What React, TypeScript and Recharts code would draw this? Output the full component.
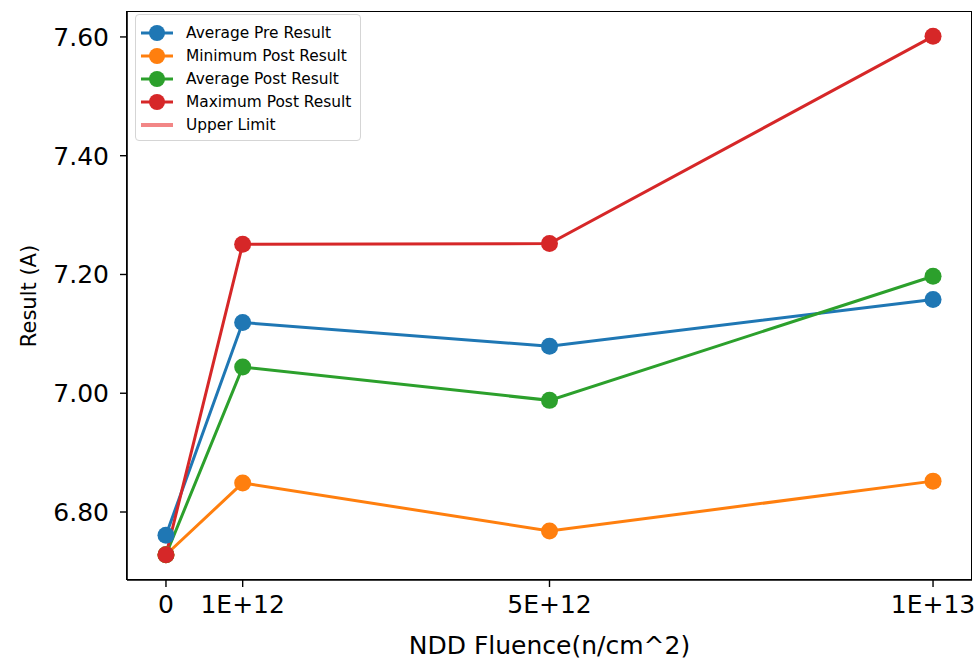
import { Line, LineChart, XAxis, YAxis } from "recharts";

// fluence values on the x axis (n/cm^2)
const fluence = [0, 1e12, 5e12, 1e13];

const avgPre = [6.761, 7.119, 7.079, 7.158];
const minPost = [6.728, 6.849, 6.768, 6.852];
const avgPost = [6.728, 7.044, 6.988, 7.197];
const maxPost = [6.728, 7.251, 7.252, 7.601];

const xTicks = [0, 1e12, 5e12, 1e13];
const xTickLabels = ["0", "1E+12", "5E+12", "1E+13"];
const yTicks = [6.8, 7.0, 7.2, 7.4, 7.6];

const seriesNames = ["Average Pre Result", "Minimum Post Result", "Average Post Result", "Maximum Post Result"];
const seriesColors = ["#1f77b4", "#ff7f0e", "#2ca02c", "#d62728"];
const limitName = "Upper Limit";
const limitColor = "#f28686";

const data = fluence.map((x, i) => ({
  x,
  avgPre: avgPre[i],
  minPost: minPost[i],
  avgPost: avgPost[i],
  maxPost: maxPost[i],
}));

const keys = ["avgPre", "minPost", "avgPost", "maxPost"];
const font = "'DejaVu Sans', sans-serif";

function LegendBox() {
  return (
    <div
      style={{
        position: "absolute",
        left: 135,
        top: 14,
        border: "1.5px solid #d5d5d5",
        borderRadius: 4,
        background: "rgba(255,255,255,0.8)",
        padding: "6px 9px 4px 4px",
        fontFamily: font,
        fontSize: 15.4,
        color: "#000",
      }}
    >
      {seriesNames.map((name, i) => (
        <div key={name} style={{ display: "flex", alignItems: "center", height: 23 }}>
          <svg width={34} height={20} style={{ marginRight: 12 }}>
            <line x1={1} y1={10} x2={33} y2={10} stroke={seriesColors[i]} strokeWidth={3} />
            <circle cx={17} cy={10} r={8} fill={seriesColors[i]} />
          </svg>
          {name}
        </div>
      ))}
      <div style={{ display: "flex", alignItems: "center", height: 23 }}>
        <svg width={34} height={20} style={{ marginRight: 12 }}>
          <line x1={1} y1={10} x2={33} y2={10} stroke={limitColor} strokeWidth={4} />
        </svg>
        {limitName}
      </div>
    </div>
  );
}

function YLabel(props: any) {
  const vb = props.viewBox;
  const cx = vb.x + 30;
  const cy = vb.y + vb.height / 2;
  return (
    <text x={cx} y={cy} transform={`rotate(-90 ${cx} ${cy})`} textAnchor="middle" dominantBaseline="middle"
      fontFamily={font} fontSize={21} fill="#000">
      Result (A)
    </text>
  );
}

function XLabel(props: any) {
  const vb = props.viewBox;
  return (
    <text x={vb.x + vb.width / 2} y={vb.y + 74} textAnchor="middle" fontFamily={font} fontSize={25} fill="#000">
      NDD Fluence(n/cm^2)
    </text>
  );
}

export default function App() {
  return (
    <div style={{ position: "absolute", left: 0, top: 0, width: 980, height: 661, background: "#fff" }}>
      <LineChart width={980} height={661} data={data} margin={{ top: 12, right: 8, bottom: 0, left: 0 }}>
        <XAxis
          dataKey="x"
          type="number"
          domain={[-0.508e12, 10.508e12]}
          ticks={xTicks}
          tickFormatter={(v: number) => xTickLabels[xTicks.indexOf(v)]}
          height={81}
          tickSize={7}
          tickMargin={8}
          axisLine={{ stroke: "#000", strokeWidth: 1.6 }}
          tickLine={{ stroke: "#000", strokeWidth: 1.4 }}
          tick={{ fill: "#000", fontFamily: font, fontSize: 25 }}
          label={<XLabel />}
          allowDataOverflow
        />
        <YAxis
          type="number"
          domain={[6.6855, 7.642]}
          ticks={yTicks}
          tickFormatter={(v: number) => v.toFixed(2)}
          width={127}
          tickSize={7}
          tickMargin={11}
          axisLine={{ stroke: "#000", strokeWidth: 1.6 }}
          tickLine={{ stroke: "#000", strokeWidth: 1.4 }}
          tick={{ fill: "#000", fontFamily: font, fontSize: 25 }}
          label={<YLabel />}
          allowDataOverflow
        />
        {keys.map((k, i) => (
          <Line
            key={k}
            dataKey={k}
            name={seriesNames[i]}
            stroke={seriesColors[i]}
            strokeWidth={3}
            dot={{ r: 8.5, fill: seriesColors[i], stroke: "none" }}
            activeDot={false}
            isAnimationActive={false}
          />
        ))}
      </LineChart>
      {/* frame around the plot area (top and right spines) */}
      <div
        style={{
          position: "absolute",
          left: 126,
          top: 11,
          width: 846,
          height: 569,
          border: "1.6px solid #000",
          boxSizing: "border-box",
          pointerEvents: "none",
        }}
      />
      <LegendBox />
    </div>
  );
}
